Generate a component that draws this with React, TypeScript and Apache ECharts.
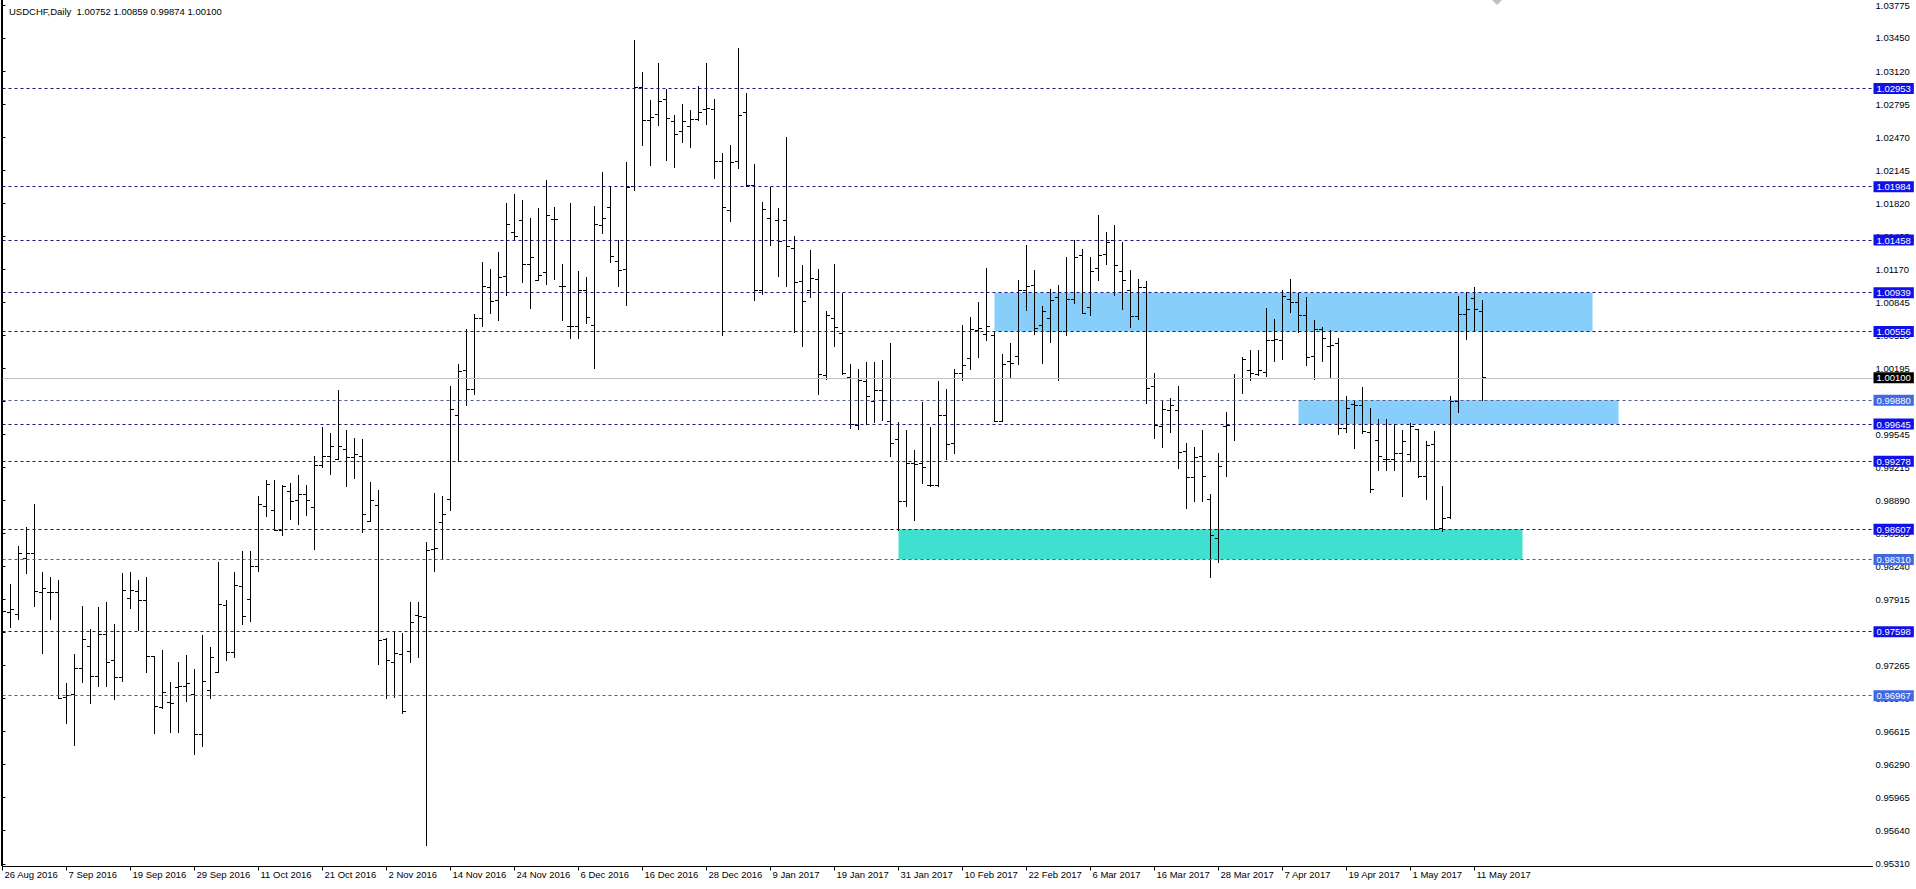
import React, { useEffect, useRef } from 'react';
import * as echarts from 'echarts';

const symbolName = 'USDCHF,Daily';

const xLabels = ['26 Aug 2016', '7 Sep 2016', '19 Sep 2016', '29 Sep 2016', '11 Oct 2016', '21 Oct 2016', '2 Nov 2016', '14 Nov 2016', '24 Nov 2016', '6 Dec 2016', '16 Dec 2016', '28 Dec 2016', '9 Jan 2017', '19 Jan 2017', '31 Jan 2017', '10 Feb 2017', '22 Feb 2017', '6 Mar 2017', '16 Mar 2017', '28 Mar 2017', '7 Apr 2017', '19 Apr 2017', '1 May 2017', '11 May 2017'];

const yTicks = [1.03775, 1.0345, 1.0312, 1.02795, 1.0247, 1.02145, 1.0182, 1.01495, 1.0117, 1.00845, 1.0052, 1.00195, 0.9987, 0.99545, 0.99215, 0.9889, 0.98565, 0.9824, 0.97915, 0.9759, 0.97265, 0.9694, 0.96615, 0.9629, 0.95965, 0.9564, 0.9531];

const opens = [0.97861, 0.97789, 0.97769, 0.98317, 0.98371, 0.97982, 0.97982, 0.97982, 0.96945, 0.96981, 0.97237, 0.97457, 0.97158, 0.97572, 0.97319, 0.97148, 0.97927, 0.97992, 0.9791, 0.97358, 0.96849, 0.96902, 0.97049, 0.97062, 0.96981, 0.96587, 0.97016, 0.97193, 0.97858, 0.97398, 0.98048, 0.9792, 0.98236, 0.98837, 0.9879, 0.986, 0.98978, 0.98889, 0.98952, 0.9882, 0.99237, 0.99322, 0.99297, 0.99395, 0.99316, 0.99326, 0.98689, 0.98844, 0.97523, 0.97296, 0.97378, 0.974, 0.97762, 0.97739, 0.98413, 0.98672, 0.98903, 0.9973, 1.0017, 0.99989, 1.00686, 1.00995, 1.0086, 1.01096, 1.01534, 1.01655, 1.01218, 1.01064, 1.01136, 1.01665, 1.00998, 1.0061, 1.0061, 1.00965, 1.00613, 1.01606, 1.0178, 1.01251, 1.01172, 1.0199, 1.02963, 1.02634, 1.027, 1.02847, 1.02631, 1.02532, 1.02581, 1.02647, 1.02749, 1.02749, 1.02233, 1.01754, 1.02236, 1.02719, 1.02, 1.00965, 1.01672, 1.01655, 1.01655, 1.01372, 1.01051, 1.00958, 1.0107, 1.00127, 1.00686, 1.00538, 1.00101, 0.99635, 1.00061, 0.99871, 0.99977, 0.99674, 0.99494, 0.98886, 0.99257, 0.99257, 0.99044, 0.99044, 0.9973, 0.99454, 1.00144, 1.00292, 1.00571, 1.00531, 1.00521, 0.99674, 1.00258, 1.00315, 1.00965, 1.01014, 1.00613, 1.00686, 1.00893, 1.00554, 1.00873, 1.0131, 1.00795, 1.01179, 1.0132, 1.01451, 1.01145, 1.00965, 1.00709, 1.00992, 1.00012, 0.99625, 0.99783, 0.99783, 0.99372, 0.99115, 0.99322, 0.98903, 0.98518, 0.99618, 1.00095, 1.00095, 1.00177, 1.00137, 1.0015, 1.00465, 1.00472, 1.00873, 1.00844, 1.00719, 1.00315, 1.00578, 1.00406, 1.0044, 0.99602, 0.99842, 0.99832, 0.99559, 0.99487, 0.99297, 0.99297, 0.99356, 0.99349, 0.99592, 0.99132, 0.99447, 0.98617, 0.98721, 0.99865, 1.00729, 1.00883, 1.00752];

const highs = [0.97937, 0.98068, 0.98442, 0.9863, 0.98847, 0.98183, 0.98134, 0.98107, 0.97092, 0.97378, 0.97844, 0.97624, 0.97841, 0.9789, 0.97673, 0.98173, 0.98186, 0.98107, 0.98134, 0.97358, 0.97414, 0.97095, 0.97292, 0.97365, 0.97227, 0.97565, 0.97444, 0.98281, 0.97907, 0.98183, 0.98393, 0.98393, 0.98926, 0.99093, 0.99093, 0.99041, 0.99061, 0.99142, 0.99044, 0.99327, 0.99612, 0.99553, 0.9998, 0.99585, 0.99503, 0.99496, 0.99073, 0.98985, 0.97532, 0.97604, 0.97581, 0.9789, 0.9789, 0.98475, 0.98962, 0.98935, 1.00019, 1.00236, 1.00581, 1.00729, 1.01234, 1.01169, 1.01337, 1.01815, 1.01911, 1.01849, 1.01675, 1.01766, 1.02049, 1.0178, 1.01221, 1.01819, 1.01152, 1.01093, 1.01786, 1.02125, 1.01977, 1.01458, 1.02224, 1.03429, 1.03113, 1.02831, 1.03199, 1.02946, 1.0269, 1.02798, 1.02739, 1.02975, 1.03199, 1.02847, 1.02312, 1.02394, 1.03347, 1.02904, 1.02204, 1.01829, 1.01977, 1.0177, 1.0247, 1.01497, 1.01212, 1.01359, 1.01172, 1.00751, 1.01221, 1.00932, 1.00236, 1.00187, 1.00253, 1.00256, 1.00276, 1.0044, 0.99657, 0.99578, 0.99381, 0.99854, 0.99612, 1.00068, 0.99989, 1.00187, 1.0062, 1.00692, 1.00847, 1.01179, 1.00548, 1.00334, 1.0044, 1.01057, 1.01409, 1.01156, 1.00807, 1.00972, 1.01014, 1.01287, 1.01458, 1.01366, 1.01287, 1.01704, 1.01534, 1.01606, 1.01435, 1.01162, 1.0107, 1.01047, 1.00144, 0.99863, 0.99898, 1.00019, 0.99457, 0.99415, 0.99585, 0.98955, 0.99356, 0.9976, 1.00137, 1.00302, 1.00374, 1.00374, 1.00785, 1.00676, 1.00965, 1.0107, 1.00932, 1.00889, 1.00669, 1.00598, 1.00571, 1.00489, 0.99921, 0.99874, 1.00002, 0.99799, 0.99691, 0.99691, 0.99645, 0.99585, 0.99651, 0.99595, 0.9947, 0.99576, 0.99034, 0.99914, 1.00906, 1.00942, 1.00992, 1.00859];

const lows = [0.96307, 0.97637, 0.97723, 0.98169, 0.97844, 0.97384, 0.9772, 0.96935, 0.96691, 0.96481, 0.971, 0.96889, 0.97056, 0.97056, 0.96928, 0.97106, 0.97828, 0.97607, 0.97197, 0.96596, 0.96839, 0.96602, 0.96602, 0.96908, 0.96386, 0.96465, 0.96938, 0.97193, 0.97319, 0.97341, 0.9767, 0.97696, 0.98196, 0.98731, 0.98593, 0.98544, 0.98705, 0.98652, 0.98745, 0.98413, 0.99217, 0.99145, 0.99297, 0.99027, 0.99105, 0.98577, 0.98682, 0.97272, 0.96942, 0.96952, 0.96793, 0.97292, 0.97345, 0.95495, 0.98196, 0.98311, 0.98797, 0.9928, 0.99825, 0.99937, 1.00603, 1.00732, 1.00663, 1.00909, 1.01451, 1.01037, 1.00785, 1.01064, 1.01021, 1.01071, 1.00666, 1.00485, 1.00492, 1.00637, 1.00193, 1.01524, 1.01238, 1.00998, 1.00817, 1.01944, 1.02394, 1.02197, 1.02584, 1.02246, 1.02174, 1.02421, 1.02371, 1.0264, 1.02598, 1.02066, 1.00522, 1.01638, 1.02164, 1.01983, 1.0086, 1.00926, 1.01402, 1.01096, 1.00998, 1.00548, 1.00406, 1.00893, 0.9994, 1.00085, 1.00406, 1.00134, 0.99602, 0.99592, 0.99641, 0.99657, 0.99684, 0.99322, 0.986, 0.9883, 0.98692, 0.9906, 0.99034, 0.99034, 0.99297, 0.99356, 1.00078, 1.00184, 1.00302, 1.00472, 0.99667, 0.99667, 1.00101, 1.00233, 1.00761, 1.00529, 1.00243, 1.00446, 1.00078, 1.00522, 1.00834, 1.00735, 1.00712, 1.01057, 1.01218, 1.00916, 1.00775, 1.00598, 1.00676, 0.99849, 0.99504, 0.99415, 0.99563, 0.99208, 0.98814, 0.98879, 0.98879, 0.98137, 0.98285, 0.99125, 0.9948, 0.99947, 1.00078, 1.00121, 1.00111, 1.00259, 1.00282, 1.00745, 1.00548, 1.00219, 1.00085, 1.00259, 1.00095, 0.99546, 0.99559, 0.99405, 0.99553, 0.98971, 0.99184, 0.99191, 0.99191, 0.98928, 0.99273, 0.99115, 0.98903, 0.98607, 0.98583, 0.98715, 0.9976, 1.00479, 1.00554, 0.99874];

const closes = [0.97795, 0.97818, 0.98371, 0.98371, 0.97992, 0.98026, 0.97982, 0.96942, 0.96974, 0.97237, 0.97523, 0.97158, 0.97572, 0.97296, 0.97148, 0.98009, 0.98009, 0.9791, 0.97358, 0.96859, 0.97, 0.96892, 0.97062, 0.97089, 0.96587, 0.97108, 0.97345, 0.97868, 0.97398, 0.98055, 0.97752, 0.98236, 0.98854, 0.99051, 0.98593, 0.99034, 0.98879, 0.98952, 0.98893, 0.99237, 0.99322, 0.99428, 0.99428, 0.99316, 0.99346, 0.9875, 0.98893, 0.97513, 0.97318, 0.97384, 0.96809, 0.9769, 0.97745, 0.98403, 0.9842, 0.98758, 0.99789, 1.00167, 0.99989, 1.00686, 1.00998, 1.0085, 1.0109, 1.01613, 1.0149, 1.01218, 1.01287, 1.01106, 1.01704, 1.01662, 1.01005, 1.0061, 1.00965, 1.00696, 1.01613, 1.01672, 1.01293, 1.01162, 1.01973, 1.02963, 1.02634, 1.02667, 1.02821, 1.02657, 1.02499, 1.02624, 1.02647, 1.02716, 1.02756, 1.02233, 1.0178, 1.02227, 1.02683, 1.02, 1.00958, 1.01763, 1.01458, 1.01441, 1.01399, 1.01041, 1.00857, 1.0108, 1.00134, 1.00719, 1.00597, 1.00144, 0.99641, 1.00078, 0.99914, 0.99977, 0.99881, 0.99454, 0.98886, 0.99257, 0.9925, 0.99221, 0.99044, 0.9973, 0.99447, 1.00144, 1.00226, 1.00581, 1.00588, 1.0061, 0.99674, 1.00236, 1.00243, 1.00965, 1.01005, 1.00588, 1.00758, 1.00867, 1.00554, 1.00876, 1.01287, 1.00735, 1.01145, 1.0131, 1.01431, 1.01208, 1.01064, 1.00709, 1.00992, 0.99996, 0.99635, 0.99789, 0.99832, 0.99366, 0.99122, 0.99316, 0.99132, 0.98551, 0.99224, 0.99628, 1.00095, 1.00282, 1.00144, 1.00177, 1.00472, 1.00482, 1.00906, 1.00844, 1.00719, 1.00302, 1.00578, 1.00489, 1.00416, 0.99602, 0.99799, 0.99832, 0.99569, 0.99001, 0.99329, 0.993, 0.99356, 0.99477, 0.99618, 0.99132, 0.99438, 0.98607, 0.98715, 0.99865, 1.00729, 1.00775, 1.00775, 1.001];

const strongLevels = [1.02953, 1.01984, 1.01458, 1.00939, 1.00556, 0.99645, 0.99278, 0.98607, 0.97598];
const lightLevels = [0.9988, 0.9831, 0.96967];
const currentPrice = 1.001;

// rectangles: [startBar, endBar, top, bottom]
const zoneBlueUpper = [124, 198.75, 1.00939, 1.00556];
const zoneBlueLower = [162, 202, 0.9988, 0.99645];
const zoneTurquoise = [112, 190, 0.98607, 0.9831];

const FONT = 'Liberation Sans, Arial, sans-serif';

export default function App() {
  const ref = useRef<HTMLDivElement>(null);
  useEffect(() => {
    const chart = echarts.init(ref.current as HTMLDivElement, null, { renderer: 'svg' });
    const ohlc = opens.map((o, i) => [i, o, highs[i], lows[i], closes[i]]);
    const tickIdx = xLabels.map((_, i) => i * 8);
    const last = opens.length - 1;
    const titleText = `${symbolName}  ${opens[last].toFixed(5)} ${highs[last].toFixed(5)} ${lows[last].toFixed(5)} ${closes[last].toFixed(5)}`;

    const lvlLabel = (bg: string, color = '#fff') => ({
      show: true,
      position: 'end',
      distance: 1,
      formatter: (p: any) => Number(p.value).toFixed(5),
      backgroundColor: bg,
      color,
      fontFamily: FONT,
      fontSize: 9.5,
      lineHeight: 10,
      padding: [1, 3, 0, 3],
    });

    const markLineData: any[] = [
      ...strongLevels.map((v) => ({
        yAxis: v,
        lineStyle: { color: '#14147a', type: [3, 3], width: 1 },
        label: lvlLabel('#1010e8'),
      })),
      ...lightLevels.map((v) => ({
        yAxis: v,
        lineStyle: { color: '#4f5f8a', type: [3, 3], width: 1 },
        label: lvlLabel('#4169e1'),
      })),
      {
        yAxis: currentPrice,
        lineStyle: { color: '#c0c0c0', type: 'solid', width: 1 },
        label: lvlLabel('#000000'),
      },
    ];

    const area = (z: number[], color: string) => [
      { xAxis: z[0], yAxis: z[2], itemStyle: { color } },
      { xAxis: z[1], yAxis: z[3] },
    ];

    const option: any = {
      animation: false,
      backgroundColor: '#ffffff',
      textStyle: { fontFamily: FONT },
      title: {
        text: titleText,
        left: 4,
        top: 1,
        textStyle: { fontSize: 9.5, fontWeight: 'normal', color: '#000', fontFamily: FONT },
      },
      grid: { left: 2.5, right: 43.5, top: 0, bottom: 22.5, show: false },
      xAxis: {
        type: 'value',
        min: 0,
        max: 233.75,
        axisLine: { show: true, onZero: false, lineStyle: { color: '#000', width: 1 } },
        axisTick: { show: true, customValues: tickIdx, length: 4, lineStyle: { color: '#000' } },
        axisLabel: {
          show: true,
          customValues: tickIdx,
          formatter: (v: number) => xLabels[Math.round(v / 8)] || '',
          align: 'left',
          margin: 3,
          padding: [0, 0, 0, 2],
          color: '#000',
          fontSize: 9.5,
          fontFamily: FONT,
        },
        splitLine: { show: false },
      },
      yAxis: {
        type: 'value',
        position: 'right',
        min: 0.95284,
        max: 1.03823,
        axisLine: { show: true, lineStyle: { color: '#000', width: 1 } },
        axisTick: { show: true, customValues: yTicks, length: 3, lineStyle: { color: '#000' } },
        axisLabel: {
          show: true,
          customValues: yTicks,
          formatter: (v: number) => v.toFixed(5),
          margin: 3,
          color: '#000',
          fontSize: 9.5,
          fontFamily: FONT,
        },
        splitLine: { show: false },
      },
      graphic: [
        { type: 'line', shape: { x1: 1.5, y1: 0, x2: 1.5, y2: 866 }, style: { stroke: '#000', lineWidth: 1 }, silent: true },
        { type: 'polygon', shape: { points: [[1492, 0], [1502, 0], [1497, 5]] }, style: { fill: '#c0c0c0' }, silent: true },
      ],
      series: [
        {
          type: 'line',
          data: [],
          z: 1,
          silent: true,
          markArea: {
            silent: true,
            data: [
              area(zoneBlueUpper, '#87cefa'),
              area(zoneBlueLower, '#87cefa'),
              area(zoneTurquoise, '#40e0d0'),
            ],
          },
        },
        {
          type: 'line',
          data: [],
          z: 2,
          silent: true,
          markLine: {
            silent: true,
            precision: 5,
            symbol: ['none', 'none'],
            data: markLineData,
          },
        },
        {
          type: 'custom',
          z: 3,
          silent: true,
          clip: true,
          data: ohlc,
          encode: { x: 0, y: [1, 2, 3, 4] },
          renderItem: (params: any, api: any) => {
            const i = api.value(0);
            const pO = api.coord([i, api.value(1)]);
            const pH = api.coord([i, api.value(2)]);
            const pL = api.coord([i, api.value(3)]);
            const pC = api.coord([i, api.value(4)]);
            const x = Math.floor(pH[0]) + 0.5;
            const r = (y: number) => Math.floor(y) + 0.5;
            const style = { stroke: '#000', lineWidth: 1 };
            return {
              type: 'group',
              children: [
                { type: 'line', shape: { x1: x, y1: Math.floor(pH[1]), x2: x, y2: Math.floor(pL[1]) + 1 }, style },
                { type: 'line', shape: { x1: x - 3.5, y1: r(pO[1]), x2: x - 0.5, y2: r(pO[1]) }, style },
                { type: 'line', shape: { x1: x + 0.5, y1: r(pC[1]), x2: x + 3.5, y2: r(pC[1]) }, style },
              ],
            };
          },
        },
      ],
    };
    chart.setOption(option);
    return () => chart.dispose();
  }, []);
  return (
    <div
      ref={ref}
      style={{ position: 'absolute', left: 0, top: 0, width: 1916, height: 889, background: '#fff' }}
    />
  );
}
